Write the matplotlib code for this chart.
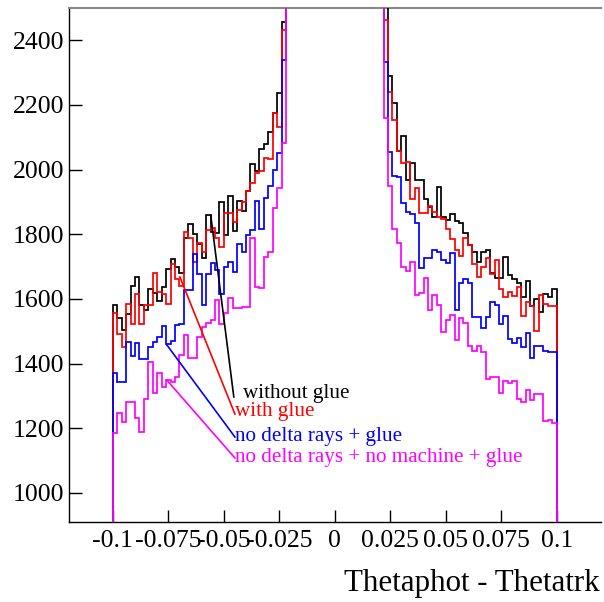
import numpy as np
import matplotlib
matplotlib.use("Agg")
import matplotlib.pyplot as plt

plt.rcParams['font.family'] = ['Liberation Serif', 'DejaVu Serif']
plt.rcParams['axes.unicode_minus'] = False

# ---- data: 100 bins of width 0.002 from -0.1 to 0.1 ----
black_left = [1581, 1540, 1504, 1553, 1640, 1668, 1580, 1565, 1632, 1617, 1594, 1638, 1694,
              1725, 1700, 1681, 1790, 1831, 1800, 1770, 1726, 1859, 1808, 1803, 1901, 1798,
              1918, 1810, 1903, 1873, 1934, 2017, 1997, 2063, 2079, 2117, 2176, 2238, 2457]
red_left = [1557, 1493, 1452, 1583, 1524, 1615, 1524, 1581, 1581, 1681, 1622, 1615, 1584,
            1707, 1661, 1640, 1806, 1790, 1715, 1772, 1745, 1813, 1818, 1790, 1762, 1867,
            1867, 1839, 1875, 1900, 1934, 1958, 1990, 1997, 2035, 2032, 2176, 2133, 2431]
blue_left = [1370, 1344, 1344, 1467, 1424, 1464, 1414, 1414, 1450, 1467, 1483, 1516, 1460,
             1470, 1519, 1522, 1628, 1628, 1738, 1677, 1581, 1677, 1710, 1690, 1614, 1700,
             1715, 1684, 1770, 1746, 1798, 1813, 1903, 1815, 1913, 1949, 1999, 2052, 2339]
magenta_left = [1184, 1246, 1220, 1280, 1280, 1231, 1189, 1292, 1406, 1308, 1372, 1328, 1349,
                1344, 1357, 1428, 1489, 1417, 1417, 1483, 1514, 1527, 1535, 1597, 1523, 1556,
                1602, 1571, 1571, 1576, 1576, 1788, 1638, 1634, 1729, 1744, 1880, 1942, 2083]

# central bins (-0.022 .. 0.022) run far above the visible range
center_counts = [2700, 2900, 3100, 3400, 3700, 4000, 4400, 4800, 5200, 5600, 5900,
                 5900, 5600, 5200, 4800, 4400, 4000, 3700, 3400, 3100, 2900, 2700]

black_right = [2600, 2289, 2207, 2058, 2104, 1968, 2021, 1968, 1968, 1908, 1885, 1854, 1945,
               1854, 1844, 1864, 1842, 1835, 1805, 1766, 1746, 1715, 1746, 1751, 1680, 1665,
               1664, 1729, 1674, 1661, 1648, 1605, 1654, 1578, 1600, 1561, 1615, 1605, 1630]
red_right = [2462, 2241, 2155, 2058, 2021, 2024, 1908, 1942, 1865, 1865, 1888, 1870, 1854,
             1846, 1815, 1784, 1751, 1732, 1787, 1766, 1708, 1667, 1700, 1726, 1677, 1721,
             1630, 1607, 1620, 1609, 1636, 1546, 1589, 1578, 1501, 1612, 1585, 1578, 1578]
blue_right = [2333, 2055, 1981, 1978, 1896, 1870, 1863, 1836, 1695, 1728, 1728, 1751, 1745,
              1720, 1712, 1741, 1566, 1648, 1663, 1648, 1543, 1543, 1509, 1545, 1591, 1581,
              1523, 1548, 1475, 1465, 1478, 1451, 1496, 1417, 1455, 1455, 1440, 1437, 1437]
magenta_right = [2161, 1950, 1815, 1772, 1700, 1685, 1715, 1612, 1618, 1664, 1566, 1612, 1581,
                 1499, 1535, 1550, 1473, 1540, 1527, 1453, 1440, 1453, 1435, 1352, 1360, 1357,
                 1310, 1345, 1340, 1345, 1290, 1280, 1319, 1286, 1307, 1307, 1221, 1224, 1215]

series_labels = ["without glue", "with glue", "no delta rays + glue",
                 "no delta rays + no machine + glue"]
series_colors = ["black", "#ff0000", "#0000ff", "#ff00ff"]

xtick_values = [-0.1, -0.075, -0.05, -0.025, 0, 0.025, 0.05, 0.075, 0.1]
xtick_labels = ["-0.1", "-0.075", "-0.05", "-0.025", "0", "0.025", "0.05", "0.075", "0.1"]
ytick_values = [1000, 1200, 1400, 1600, 1800, 2000, 2200, 2400]
ytick_labels = ["1000", "1200", "1400", "1600", "1800", "2000", "2200", "2400"]
x_title = "Thetaphot - Thetatrk"

# ---- figure ----
fig = plt.figure(figsize=(6.04, 6.02), dpi=100)
ax = fig.add_axes([68.5 / 604, 1 - 522 / 602, (601 - 68.5) / 604, (522 - 8) / 602])

edges = np.linspace(-0.1, 0.1, 101)
all_series = [
    black_left + center_counts + black_right,
    red_left + center_counts + red_right,
    blue_left + center_counts + blue_right,
    magenta_left + center_counts + magenta_right,
]
for vals, col in zip(all_series, series_colors):
    ax.stairs(vals, edges, baseline=0, color=col, lw=1.25, zorder=3)

ax.set_xlim(-0.12, 0.12)
ax.set_ylim(910, 2500)

ax.set_xticks(xtick_values)
ax.set_xticklabels(xtick_labels)
ax.set_yticks(ytick_values)
ax.set_yticklabels(ytick_labels)
ax.tick_params(axis='both', direction='in', length=9, width=1.0, labelsize=18.5,
               top=False, right=False)
ax.tick_params(axis='x', pad=6)
ax.tick_params(axis='y', pad=3)

for s in ['left', 'bottom']:
    ax.spines[s].set_linewidth(1.0)
    ax.spines[s].set_color('black')
ax.spines['top'].set_color('#888888')
ax.spines['top'].set_linewidth(1.5)
ax.spines['right'].set_visible(False)

# legend-like annotations with pointer lines
text_pos = [(-0.0412, 1309), (-0.0450, 1252), (-0.0450, 1176), (-0.0450, 1111)]
line_start = [(-0.0455, 1297), (-0.0450, 1244), (-0.0450, 1173), (-0.0450, 1108)]
line_end = [(-0.0559, 1859), (-0.0698, 1668), (-0.0757, 1458), (-0.0757, 1349)]
for lab, col, tp, ls, le in zip(series_labels, series_colors, text_pos, line_start, line_end):
    ax.plot([ls[0], le[0]], [ls[1], le[1]], color=col, lw=1.2, zorder=4)
    ax.text(tp[0], tp[1], lab, color=col, fontsize=15.2, ha='left', va='center', zorder=5)

fig.text(600 / 604, 1 - 583 / 602, x_title, ha='right', va='center', fontsize=22.3)

fig.savefig("out.png", dpi=100)
